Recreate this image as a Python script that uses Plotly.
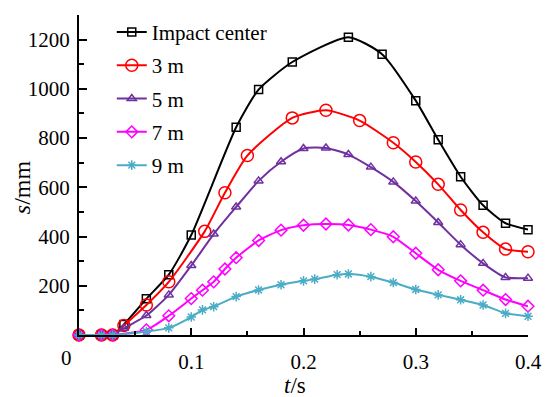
import plotly.graph_objects as go

# ---- data ----
t_black = [0, 0.02, 0.03, 0.04, 0.06, 0.08, 0.10, 0.14, 0.16, 0.19, 0.24, 0.27, 0.30, 0.32, 0.34, 0.36, 0.38, 0.40]
s_black = [0, 0, 0, 43, 147, 245, 406, 844, 997, 1109, 1210, 1141, 952, 793, 643, 527, 454, 428]

t_red = [0, 0.02, 0.03, 0.04, 0.06, 0.08, 0.112, 0.13, 0.15, 0.19, 0.22, 0.25, 0.28, 0.30, 0.32, 0.34, 0.36, 0.38, 0.40]
s_red = [0, 0, 0, 39, 122, 216, 421, 578, 729, 882, 913, 871, 781, 703, 612, 508, 417, 349, 338]

t_purple = [0, 0.02, 0.03, 0.04, 0.06, 0.08, 0.10, 0.12, 0.14, 0.16, 0.18, 0.20, 0.22, 0.24, 0.26, 0.28, 0.30, 0.32, 0.34, 0.36, 0.38, 0.40]
s_purple = [0, 0, 0, 27, 79, 163, 282, 410, 520, 626, 704, 758, 760, 733, 682, 622, 544, 457, 367, 291, 234, 231]

t_magenta = [0, 0.02, 0.03, 0.06, 0.08, 0.10, 0.11, 0.12, 0.13, 0.14, 0.16, 0.18, 0.20, 0.22, 0.24, 0.26, 0.28, 0.30, 0.32, 0.34, 0.36, 0.38, 0.40]
s_magenta = [0, 0, 0, 21, 78, 148, 182, 216, 268, 314, 384, 426, 446, 451, 447, 428, 399, 332, 265, 220, 182, 144, 117]

t_cyan = [0, 0.02, 0.03, 0.06, 0.08, 0.10, 0.11, 0.12, 0.14, 0.16, 0.18, 0.20, 0.21, 0.23, 0.24, 0.26, 0.28, 0.30, 0.32, 0.34, 0.36, 0.38, 0.40]
s_cyan = [0, 0, 0, 14, 29, 73, 102, 115, 156, 183, 204, 220, 227, 245, 248, 237, 213, 185, 163, 143, 122, 88, 76]

names = ["Impact center", "3 m", "5 m", "7 m", "9 m"]
x_ticks = [0.1, 0.2, 0.3, 0.4]
x_ticktext = ["0.1", "0.2", "0.3", "0.4"]
y_ticks = [200, 400, 600, 800, 1000, 1200]

series = [
    (t_black, s_black, "#000000", "square-open", 8),
    (t_red, s_red, "#ff0000", "circle-open", 12),
    (t_purple, s_purple, "#7030a0", "triangle-up-open", 8),
    (t_magenta, s_magenta, "#ff00ff", "diamond-open", 9),
    (t_cyan, s_cyan, "#4bacc6", "asterisk-open", 8),
]

FONT = "Liberation Serif, Times New Roman, DejaVu Serif, serif"
FS = 21
fig = go.Figure()
for i, (tx, sy, col, sym, sz) in enumerate(series):
    fig.add_trace(go.Scatter(
        x=tx, y=sy, name=names[i], mode="lines+markers",
        line=dict(color=col, width=2, shape="spline", smoothing=0.6),
        marker=dict(symbol=sym, size=sz, color=col, line=dict(color=col, width=1.5)),
        cliponaxis=False, legendgroup=f"g{i}",
    ))

fig.update_layout(
    width=554, height=397,
    margin=dict(l=79, r=16, t=13, b=62),
    plot_bgcolor="white", paper_bgcolor="white",
    font=dict(family=FONT, size=FS, color="black"),
    showlegend=True,
    legend=dict(x=0.073, y=1.01, xanchor="left", yanchor="top",
                bgcolor="rgba(0,0,0,0)", font=dict(family=FONT, size=FS),
                tracegroupgap=3, itemwidth=30),
    xaxis=dict(range=[0, 0.4], showgrid=False, zeroline=False,
               showline=True, linecolor="black", linewidth=2,
               ticks="inside", ticklen=7, tickwidth=2, tickcolor="black",
               tickvals=x_ticks, ticktext=x_ticktext, ticklabelstandoff=7,
               minor=dict(ticks="inside", ticklen=4, tickwidth=2, tickcolor="black", dtick=0.05, tick0=0),
               tickfont=dict(family=FONT, size=FS)),
    yaxis=dict(range=[0, 1300], showgrid=False, zeroline=False,
               showline=True, linecolor="black", linewidth=2,
               ticks="inside", ticklen=8, tickwidth=2, tickcolor="black",
               tickvals=y_ticks, ticklabelstandoff=3,
               minor=dict(ticks="inside", ticklen=5, tickwidth=2, tickcolor="black", dtick=100, tick0=0),
               tickfont=dict(family=FONT, size=FS)),
    annotations=[
        dict(text="0", x=0, y=0, xref="x", yref="y", xshift=-13, yshift=-23,
             showarrow=False, font=dict(family=FONT, size=FS)),
        dict(text="<i>t</i>/s", x=(300 - 79) / 459, y=-(386 - 335) / 322, xref="paper", yref="paper",
             xanchor="center", yanchor="middle",
             showarrow=False, font=dict(family=FONT, size=23)),
        dict(text="<i>s</i>/mm", x=-(79 - 21) / 459, y=(335 - 186) / 322, xref="paper", yref="paper",
             xanchor="center", yanchor="middle",
             textangle=-90, showarrow=False, font=dict(family=FONT, size=24)),
    ],
)

fig.write_html("out.html")
